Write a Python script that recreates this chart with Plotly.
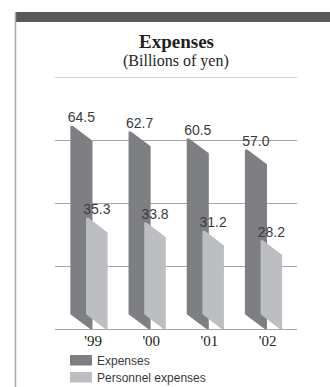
import plotly.graph_objects as go

# ---- data ----
years = ["'99", "'00", "'01", "'02"]
expenses = [64.5, 62.7, 60.5, 57.0]
personnel = [35.3, 33.8, 31.2, 28.2]

# ---- style ----
DARK = "#7e7f83"
LIGHT = "#bdbec1"
GRID = "#a6a6a6"
SLANT = 4.7      # vertical drop of the pseudo-3D slanted top/bottom (y units)
FLAT = 0.04      # small flat part of the slanted edges (x units)
DARK_OFF = (-0.32, 0.06)
LIGHT_OFF = (-0.05, 0.32)
Y_MAX = 80

W, H = 330, 387
L, R, T, B = 55, 33, 77, 58
PW, PH = W - L - R, H - T - B


def px_x(px):
    return (px - L) / PW


def px_y(py):
    return (H - B - py) / PH


def prism_path(values, off):
    xs, ys = [], []
    for i, v in enumerate(values):
        x0, x1 = i + off[0], i + off[1]
        xs += [x0, x0, x0 + FLAT, x1, x1, x1 - FLAT, x0, None]
        ys += [SLANT, v, v, v - SLANT, 0, 0, SLANT, None]
    return xs, ys


fig = go.Figure()

for vals, off, col, name in [(expenses, DARK_OFF, DARK, "Expenses"),
                             (personnel, LIGHT_OFF, LIGHT, "Personnel expenses")]:
    xs, ys = prism_path(vals, off)
    fig.add_trace(go.Scatter(x=xs, y=ys, mode="lines", fill="toself",
                             fillcolor=col, line=dict(width=0, color=col),
                             name=name, hoverinfo="skip", showlegend=False))

label_font = dict(family="Liberation Sans, Arial, sans-serif", size=14, color="#3a3a3a")
for vals, off in [(expenses, DARK_OFF), (personnel, LIGHT_OFF)]:
    cx = [i + (off[0] + off[1]) / 2 for i in range(len(vals))]
    fig.add_trace(go.Scatter(x=cx, y=vals, mode="text",
                             text=[f"{v:.1f}" for v in vals],
                             textposition="top center", textfont=label_font,
                             cliponaxis=False, showlegend=False, hoverinfo="skip"))

fig.update_xaxes(range=[-0.584, 3.576], showgrid=False, zeroline=False,
                 showline=True, linecolor=GRID, linewidth=1,
                 tickmode="array", tickvals=[i + 0.07 for i in range(len(years))],
                 ticktext=years, ticks="", ticklen=0, ticklabelstandoff=-2,
                 tickfont=dict(family="Liberation Serif, Times New Roman, serif",
                               size=15, color="#231f20"),
                 fixedrange=True)
fig.update_yaxes(range=[0, Y_MAX], showgrid=True, gridcolor=GRID, gridwidth=1,
                 dtick=20, tick0=0, showticklabels=False, zeroline=False,
                 showline=False, fixedrange=True)

shapes = [
    # top rule of the plot (y = 80)
    dict(type="line", xref="paper", yref="y", x0=0, x1=1, y0=Y_MAX, y1=Y_MAX,
         line=dict(color=GRID, width=1), layer="below"),
    # dark band at top of panel
    dict(type="rect", xref="paper", yref="paper",
         x0=px_x(15), x1=px_x(331), y0=px_y(22), y1=px_y(12),
         fillcolor="#5a5a5a", line=dict(width=0), layer="above"),
    # left frame line
    dict(type="line", xref="paper", yref="paper",
         x0=px_x(15.5), x1=px_x(15.5), y0=px_y(12), y1=px_y(388),
         line=dict(color="#a8a8a8", width=1.5)),
    # legend swatches
    dict(type="rect", xref="paper", yref="paper",
         x0=px_x(70), x1=px_x(92), y0=px_y(365.5), y1=px_y(355),
         fillcolor=DARK, line=dict(width=0)),
    dict(type="rect", xref="paper", yref="paper",
         x0=px_x(70), x1=px_x(92), y0=px_y(382.5), y1=px_y(372),
         fillcolor=LIGHT, line=dict(width=0)),
]

legend_font = dict(family="Liberation Sans, Arial, sans-serif", size=12, color="#3a3a3a")
annotations = [
    dict(text="<b>Expenses</b>", xref="paper", yref="paper", x=0.5, y=px_y(41),
         xanchor="center", yanchor="middle", showarrow=False,
         font=dict(family="Liberation Serif, Times New Roman, serif", size=19, color="#231f20")),
    dict(text="(Billions of yen)", xref="paper", yref="paper", x=0.5, y=px_y(61),
         xanchor="center", yanchor="middle", showarrow=False,
         font=dict(family="Liberation Serif, Times New Roman, serif", size=16, color="#231f20")),
    dict(text="Expenses", xref="paper", yref="paper", x=px_x(95), y=px_y(360.5),
         xanchor="left", yanchor="middle", showarrow=False, font=legend_font),
    dict(text="Personnel expenses", xref="paper", yref="paper", x=px_x(95), y=px_y(377.5),
         xanchor="left", yanchor="middle", showarrow=False, font=legend_font),
]

fig.update_layout(width=W, height=H, margin=dict(l=L, r=R, t=T, b=B, pad=0),
                  paper_bgcolor="white", plot_bgcolor="white",
                  shapes=shapes, annotations=annotations, showlegend=False)

fig.write_html("out.html")
